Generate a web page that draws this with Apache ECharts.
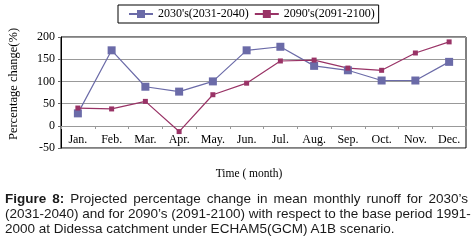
<!DOCTYPE html>
<html>
<head>
<meta charset="utf-8">
<script src="https://cdn.jsdelivr.net/npm/echarts@6/dist/echarts.min.js"></script>
<style>
    html, body { margin: 0; padding: 0; background: #fff; }
    #chart { position: absolute; left: 0; top: 0; width: 472px; height: 242px; }
    .cap { position: absolute; left: 5px; width: 463px; font-family: "Liberation Sans", Arial, sans-serif;
           font-size: 13.5px; color: #1a1a1a; white-space: nowrap; line-height: 15px; }
    .just { text-align: justify; text-align-last: justify; }
</style>
</head>
<body>
<div id="chart"></div>
<div class="cap just" style="top:191px;"><b>Figure 8:</b> Projected percentage change in mean monthly runoff for 2030’s</div>
<div class="cap just" style="top:206px;">(2031-2040) and for 2090’s (2091-2100) with respect to the base period 1991-</div>
<div class="cap" style="top:221px;">2000 at Didessa catchment under ECHAM5(GCM) A1B scenario.</div>
<script>
// 月份
var months = ['Jan.', 'Feb.', 'Mar.', 'Apr.', 'May.', 'Jun.', 'Jul.', 'Aug.', 'Sep.', 'Oct.', 'Nov.', 'Dec.'];
// 2030's
var s2030 = [28, 170, 88, 77, 100, 170, 178, 135, 125, 102, 102, 144];
// 2090's
var s2090 = [40, 38, 55, -13, 70, 96, 146, 148, 130, 125, 164, 189];
var yTicks = [-50, 0, 50, 100, 150, 200];

var serif = '"Liberation Serif", "Times New Roman", serif';
var myChart = echarts.init(document.getElementById('chart'));
myChart.setOption({
    animation: false,
    legend: {
        orient: 'horizontal',
        top: 5,
        left: 118,
        padding: [3, 4, 3, 10],
        itemGap: 5,
        itemWidth: 24,
        itemHeight: 10,
        borderColor: '#000',
        borderWidth: 1,
        textStyle: {
            fontFamily: serif,
            fontSize: 12,
            color: '#000'
        },
        data: ["2030's(2031-2040)", "2090's(2091-2100)"]
    },
    grid: {
        show: true,
        left: 61,
        right: 6,
        top: 37,
        bottom: 94,
        borderColor: '#000',
        borderWidth: 1,
        containLabel: false
    },
    xAxis: {
        type: 'category',
        data: months,
        boundaryGap: true,
        position: 'bottom',
        offset: -22,
        axisLine: {
            onZero: false,
            lineStyle: {
                color: '#999'
            }
        },
        axisTick: {
            show: true,
            length: 3,
            lineStyle: {
                color: '#999'
            }
        },
        axisLabel: {
            color: '#000',
            fontFamily: serif,
            fontSize: 12,
            margin: 8,
            interval: 0
        }
    },
    yAxis: {
        type: 'value',
        min: yTicks[0],
        max: yTicks[yTicks.length - 1],
        interval: 50,
        axisLine: {
            show: true,
            lineStyle: {
                color: '#000'
            }
        },
        axisTick: {
            show: true,
            length: 3,
            lineStyle: {
                color: '#666'
            }
        },
        axisLabel: {
            color: '#000',
            fontFamily: serif,
            fontSize: 12,
            margin: 6
        },
        splitLine: {
            lineStyle: {
                color: '#999'
            }
        }
    },
    graphic: [{
        type: 'text',
        x: 14,
        y: 84,
        rotation: Math.PI / 2,
        style: {
            text: 'Percentage change(%)',
            fontFamily: serif,
            fontSize: 12.5,
            fill: '#000',
            align: 'center',
            verticalAlign: 'middle'
        }
    }, {
        type: 'text',
        x: 249,
        y: 174,
        style: {
            text: 'Time ( month)',
            fontFamily: serif,
            fontSize: 11.5,
            fill: '#000',
            align: 'center',
            verticalAlign: 'middle'
        }
    }],
    series: [{
        name: "2030's(2031-2040)",
        type: 'line',
        data: s2030,
        symbol: 'rect',
        symbolSize: 8,
        lineStyle: {
            width: 1.2,
            color: '#6b6ba8'
        },
        itemStyle: {
            color: '#6b6ba8'
        }
    }, {
        name: "2090's(2091-2100)",
        type: 'line',
        data: s2090,
        symbol: 'rect',
        symbolSize: 5,
        z: 3,
        lineStyle: {
            width: 1.2,
            color: '#993366'
        },
        itemStyle: {
            color: '#993366'
        }
    }]
});
</script>
</body>
</html>
